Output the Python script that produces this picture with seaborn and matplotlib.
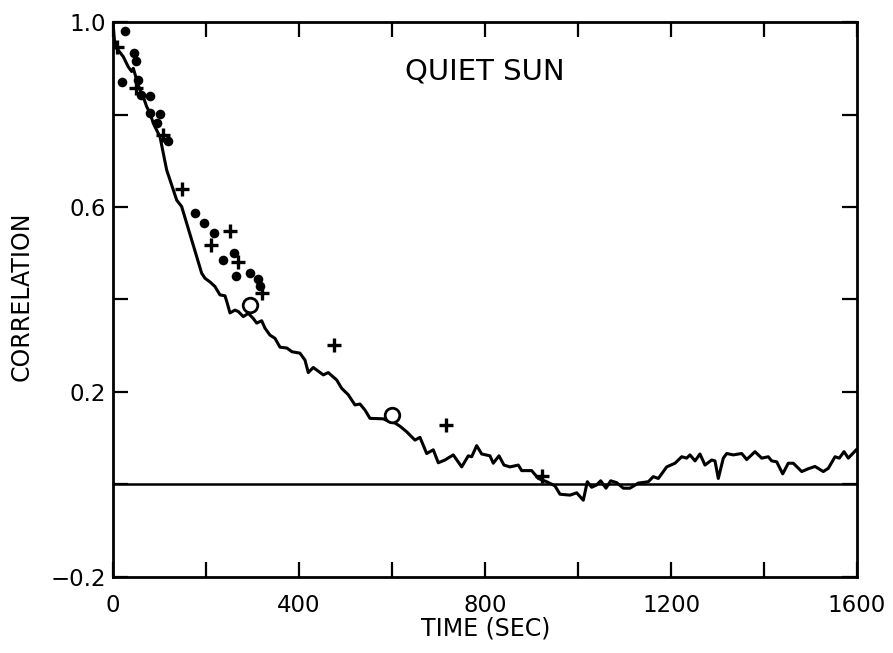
import matplotlib
matplotlib.use("Agg")
import matplotlib.pyplot as plt
import seaborn as sns
import pandas as pd
from matplotlib.ticker import MultipleLocator, FixedFormatter, FixedLocator

# ---- data ----
line_t = [0, 4.3, 11.4, 22.2, 32.9, 40.2, 43.7, 51.0, 58.1, 65.2, 72.5, 79.6, 86.7, 94.0,
          101.1, 108.2, 115.5, 126.2, 137.0, 147.7, 158.5, 169.2, 180.0, 190.7, 197.8,
          208.6, 219.4, 230.1, 240.9, 245.8, 251.6, 262.4, 269.5, 280.2, 291.0, 301.7,
          309.0, 319.8, 326.9, 337.6, 348.4, 359.1, 374.0, 385.0, 402.1, 412.9, 420.0,
          430.7, 452.3, 463.0, 481.1, 491.8, 506.0, 520.4, 531.2, 541.9, 552.7, 581.3,
          595.7, 606.4, 617.2, 631.6, 649.4, 660.2, 674.6, 688.8, 699.6, 714.0, 731.8,
          749.9, 764.1, 771.4, 782.1, 792.9, 810.7, 817.8, 830.1, 840.8, 853.7, 871.6,
          878.9, 900.4, 914.6, 932.7, 950.5, 961.3, 982.8, 997.2, 1011.4, 1020.0, 1029.4,
          1040.1, 1048.8, 1060.2, 1070.3, 1083.2, 1097.4, 1111.8, 1129.6, 1151.2, 1161.9,
          1172.7, 1190.7, 1208.6, 1223.0, 1233.8, 1240.9, 1251.6, 1262.3, 1273.1, 1287.5,
          1294.6, 1301.7, 1312.5, 1319.8, 1334.0, 1352.0, 1362.8, 1380.6, 1395.0, 1409.2,
          1416.5, 1427.3, 1440.2, 1452.2, 1463.0, 1481.1, 1495.2, 1509.6, 1527.5, 1538.3,
          1552.7, 1561.9, 1572.0, 1581.3, 1599.3]
line_c = [1.0, 0.947, 0.939, 0.925, 0.903, 0.893, 0.900, 0.875, 0.853, 0.838, 0.817, 0.803,
          0.781, 0.766, 0.752, 0.716, 0.680, 0.648, 0.615, 0.601, 0.565, 0.529, 0.493, 0.457,
          0.446, 0.438, 0.428, 0.410, 0.408, 0.392, 0.371, 0.377, 0.374, 0.363, 0.370, 0.359,
          0.349, 0.354, 0.338, 0.323, 0.316, 0.297, 0.295, 0.287, 0.284, 0.269, 0.242, 0.253,
          0.237, 0.242, 0.226, 0.208, 0.194, 0.172, 0.174, 0.161, 0.143, 0.142, 0.135, 0.133,
          0.126, 0.114, 0.096, 0.102, 0.067, 0.075, 0.047, 0.053, 0.064, 0.038, 0.062, 0.060,
          0.084, 0.066, 0.062, 0.046, 0.062, 0.042, 0.038, 0.042, 0.030, 0.030, 0.013, 0.006,
          -0.003, -0.021, -0.023, -0.018, -0.034, 0.006, -0.006, -0.001, 0.008, -0.008, 0.008,
          0.004, -0.008, -0.008, 0.003, 0.006, 0.017, 0.013, 0.038, 0.046, 0.060, 0.057, 0.064,
          0.051, 0.066, 0.042, 0.053, 0.051, 0.013, 0.057, 0.067, 0.064, 0.067, 0.054, 0.071,
          0.057, 0.060, 0.051, 0.049, 0.023, 0.046, 0.046, 0.028, 0.034, 0.039, 0.028, 0.035,
          0.060, 0.057, 0.071, 0.057, 0.076]

dot_t = [25.4, 19.2, 46, 49, 54, 60, 79.6, 79.6, 101.7, 95.5, 117.6,
         176.3, 195.7, 217.2, 235.9, 260.2, 264.5, 294.6, 311.2, 316]
dot_c = [0.980, 0.871, 0.932, 0.916, 0.875, 0.843, 0.841, 0.803, 0.802, 0.781, 0.743,
         0.586, 0.565, 0.543, 0.485, 0.500, 0.451, 0.457, 0.444, 0.430]

plus_t = [9.2, 48.8, 107.7, 149.5, 210.5, 252, 268, 320, 475.5, 717, 923]
plus_c = [0.946, 0.858, 0.756, 0.639, 0.518, 0.549, 0.480, 0.414, 0.302, 0.128, 0.018]

open_t = [294, 601]
open_c = [0.388, 0.150]

x_tick_labels = ["0", "400", "800", "1200", "1600"]
y_tick_labels = ["\u22120.2", "0.2", "0.6", "1.0"]

title_text = "QUIET SUN"
x_label = "TIME (SEC)"
y_label = "CORRELATION"

# ---- plot ----
sns.set_style("ticks")
plt.rcParams['font.family'] = ['DejaVu Sans']
plt.rcParams['text.color'] = 'black'
plt.rcParams['axes.labelcolor'] = 'black'
plt.rcParams['xtick.color'] = 'black'
plt.rcParams['ytick.color'] = 'black'

fig = plt.figure(figsize=(8.93, 6.53), dpi=100)
ax = fig.add_axes([0.1265, 0.1164, 0.8332, 0.8499])

df_line = pd.DataFrame({"t": line_t, "c": line_c})
sns.lineplot(data=df_line, x="t", y="c", ax=ax, color="black", linewidth=2.2,
             sort=False, estimator=None)

ax.axhline(0, color="black", linewidth=1.8, zorder=1)

sns.scatterplot(x=dot_t, y=dot_c, ax=ax, color="black", marker="o", s=48,
                edgecolor="black", linewidth=0, zorder=3)
sns.scatterplot(x=plus_t, y=plus_c, ax=ax, color="black", marker="+", s=100,
                linewidth=2.4, zorder=3)
sns.scatterplot(x=open_t, y=open_c, ax=ax, marker="o", s=110, facecolor="white",
                edgecolor="black", linewidth=2.0, zorder=3)

ax.set_xlim(0, 1600)
ax.set_ylim(-0.2, 1.0)

ax.xaxis.set_major_locator(FixedLocator([0, 400, 800, 1200, 1600]))
ax.xaxis.set_major_formatter(FixedFormatter(x_tick_labels))
ax.xaxis.set_minor_locator(MultipleLocator(200))
ax.yaxis.set_major_locator(FixedLocator([-0.2, 0.2, 0.6, 1.0]))
ax.yaxis.set_major_formatter(FixedFormatter(y_tick_labels))
ax.yaxis.set_minor_locator(MultipleLocator(0.2))

ax.tick_params(which="both", direction="in", top=True, right=True,
               length=11, width=1.6, color="black")
ax.tick_params(which="major", labelsize=16.5, pad=5, labelcolor="black")
ax.tick_params(axis="x", which="major", pad=12)

for sp in ax.spines.values():
    sp.set_linewidth(2.0)
    sp.set_color("black")

ax.set_xlabel(x_label, fontsize=17, color="black")
ax.set_ylabel(y_label, fontsize=17, color="black")
ax.xaxis.set_label_coords(0.501, -0.072)
ax.yaxis.set_label_coords(-0.106, 0.506)

ax.text(800, 0.894, title_text, ha="center", va="center", fontsize=21, color="black")

fig.savefig("out.png", dpi=100)
